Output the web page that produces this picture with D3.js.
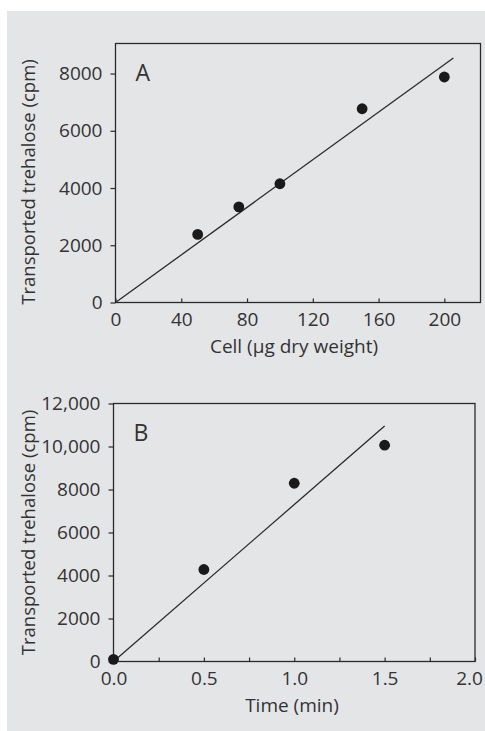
<!DOCTYPE html>
<html>
<head>
<meta charset="utf-8">
<script src="https://cdn.jsdelivr.net/npm/d3@7"></script>
<style>
  body { margin: 0; background: #fff; }
  text { font-family: "Open Sans", sans-serif; fill: #333; }
</style>
</head>
<body>
<script>
// Panel A: trehalose uptake vs. cell mass
const cellWeight = [50, 75, 100, 150, 200];
const trehaloseA = [2380, 3340, 4150, 6770, 7880];
const fitA = [[0, 0], [205.5, 8540]];
const xTicksA = [0, 40, 80, 120, 160, 200];
const yTicksA = [0, 2000, 4000, 6000, 8000];

// Panel B: trehalose uptake vs. time
const timeMin = [0, 0.5, 1.0, 1.5];
const trehaloseB = [100, 4280, 8290, 10060];
const fitB = [[0, 0], [1.5, 10950]];
const xTicksB = [0, 0.5, 1.0, 1.5, 2.0];
const xMinorB = [0.25, 0.75, 1.25, 1.75];
const yTicksB = [0, 2000, 4000, 6000, 8000, 10000, 12000];

const width = 485, height = 731;
const ink = "#2a2a2a";

const svg = d3.select("body").append("svg")
  .attr("width", width)
  .attr("height", height);

// gray panel background
svg.append("rect")
  .attr("x", 7).attr("y", 11)
  .attr("width", width - 7).attr("height", height - 11)
  .attr("fill", "#e4e5e7");

function panel(cfg) {
  const { x, y, xs, ys, line, letter, xLabel, xTitle, yTitleY } = cfg;
  const g = svg.append("g");
  const [x0, x1] = x.range();
  const [y0, y1] = y.range();

  // frame
  g.append("rect")
    .attr("x", x0).attr("y", y1)
    .attr("width", x1 - x0).attr("height", y0 - y1)
    .attr("fill", "none")
    .attr("stroke", ink)
    .attr("stroke-width", 1.3);

  // y axis: outward ticks
  g.append("g")
    .attr("transform", `translate(${x0},0)`)
    .call(d3.axisLeft(y).tickValues(cfg.yTicks).tickSizeInner(5).tickSizeOuter(0)
      .tickPadding(8).tickFormat(d => d >= 10000 ? d3.format(",")(d) : d))
    .call(a => a.select(".domain").remove())
    .call(a => a.selectAll(".tick line").attr("stroke", ink).attr("stroke-width", 1.2))
    .call(a => a.selectAll(".tick text").attr("font-size", 19).attr("fill", "#333")
      .attr("font-family", "Open Sans"));

  // x axis: inward ticks
  g.append("g")
    .attr("transform", `translate(0,${y0})`)
    .call(d3.axisBottom(x).tickValues(cfg.xTicks).tickSizeInner(-4).tickSizeOuter(0)
      .tickPadding(10).tickFormat(xLabel))
    .call(a => a.select(".domain").remove())
    .call(a => a.selectAll(".tick line").attr("stroke", ink).attr("stroke-width", 1.2))
    .call(a => a.selectAll(".tick text").attr("font-size", 19).attr("fill", "#333")
      .attr("font-family", "Open Sans"))
    // last label pulled in from the edge, as in the original
    .call(a => a.selectAll(".tick text").filter((d, i, n) => cfg.clipLast && i === n.length - 1)
      .attr("dx", -6));

  if (cfg.xMinor) {
    g.append("g")
      .attr("transform", `translate(0,${y0})`)
      .call(d3.axisBottom(x).tickValues(cfg.xMinor).tickSizeInner(-4).tickSizeOuter(0).tickFormat(""))
      .call(a => a.select(".domain").remove())
      .call(a => a.selectAll(".tick line").attr("stroke", ink).attr("stroke-width", 1.2));
  }

  // fit line
  g.append("path")
    .datum(line)
    .attr("fill", "none")
    .attr("stroke", ink)
    .attr("stroke-width", 1.3)
    .attr("d", d3.line().x(d => x(d[0])).y(d => y(d[1])));

  // points
  g.selectAll("circle")
    .data(xs.map((v, i) => [v, ys[i]]))
    .join("circle")
    .attr("cx", d => x(d[0]))
    .attr("cy", d => y(d[1]))
    .attr("r", 5.4)
    .attr("fill", "#1a1a1a");

  // panel letter
  g.append("text")
    .attr("x", x0 + 20)
    .attr("y", cfg.letterY)
    .attr("font-size", 23)
    .text(letter);

  // axis titles
  g.append("text")
    .attr("x", cfg.xTitleX)
    .attr("y", y0 + 50)
    .attr("text-anchor", "middle")
    .attr("font-size", 19)
    .text(xTitle);

  g.append("text")
    .attr("transform", `translate(35,${yTitleY}) rotate(-90)`)
    .attr("text-anchor", "middle")
    .attr("font-size", 18.5)
    .text("Transported trehalose (cpm)");
}

panel({
  x: d3.scaleLinear().domain([0, 222]).range([115.5, 480.5]),
  y: d3.scaleLinear().domain([0, 9050]).range([302.5, 43.5]),
  xs: cellWeight, ys: trehaloseA, line: fitA,
  xTicks: xTicksA, yTicks: yTicksA,
  xLabel: d3.format("d"),
  letter: "A", letterY: 81,
  xTitle: "Cell (µg dry weight)", xTitleX: 294,
  yTitleY: 182
});

panel({
  x: d3.scaleLinear().domain([0, 2]).range([113.5, 475]),
  y: d3.scaleLinear().domain([0, 12000]).range([661.5, 403.5]),
  xs: timeMin, ys: trehaloseB, line: fitB,
  xTicks: xTicksB, xMinor: xMinorB, yTicks: yTicksB,
  xLabel: d3.format(".1f"), clipLast: true,
  letter: "B", letterY: 441,
  xTitle: "Time (min)", xTitleX: 292,
  yTitleY: 532.5
});
</script>
</body>
</html>
